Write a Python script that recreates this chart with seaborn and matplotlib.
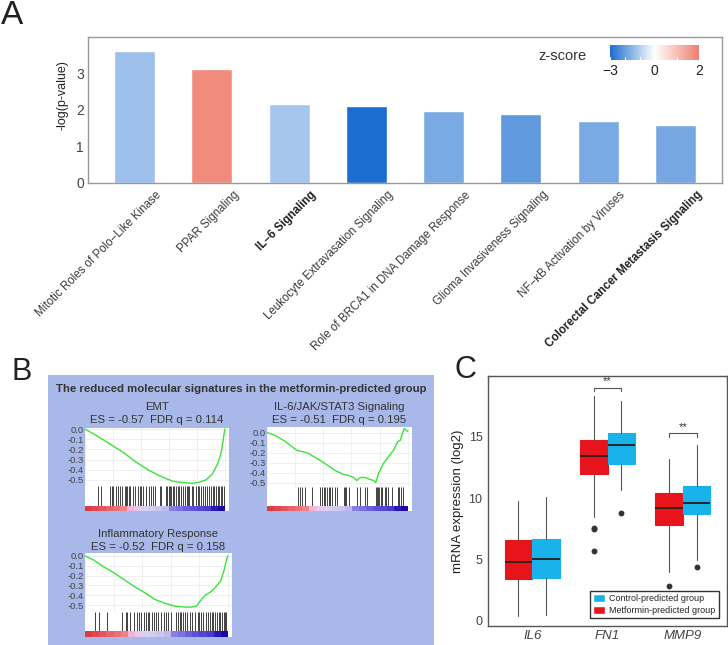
import numpy as np
import pandas as pd
import seaborn as sns
import matplotlib.pyplot as plt
from matplotlib.colors import LinearSegmentedColormap, TwoSlopeNorm, ListedColormap
from matplotlib.cm import ScalarMappable
from matplotlib.patches import Patch
from matplotlib.transforms import blended_transform_factory, ScaledTranslation

# -------------------------
# data - panel A (IPA pathways)
# -------------------------
pathways = ['Mitotic Roles of Polo\u2212Like Kinase', 'PPAR Signaling', 'IL\u22126 Signaling',
            'Leukocyte Extravasation Signaling', 'Role of BRCA1 in DNA Damage Response',
            'Glioma Invasiveness Signaling', 'NF\u2212\u03baB Activation by Viruses',
            'Colorectal Cancer Metastasis Signaling']
neglogp = [3.62, 3.11, 2.16, 2.11, 1.98, 1.88, 1.69, 1.59]
zscores = [-1.3, 1.8, -1.15, -3.0, -1.75, -2.1, -1.75, -1.8]
bold_pathways = ['IL\u22126 Signaling', 'Colorectal Cancer Metastasis Signaling']

# -------------------------
# data - panel B (GSEA running enrichment score + hits, rank in %)
# -------------------------
emt_rank = [0, 8.3, 17.8, 27.3, 36.7, 46.2, 55.7, 62.8, 69.9, 77, 81.8, 86.5, 91.2, 94.8, 97.2, 98.8, 100]
emt_es = [0, -0.065, -0.147, -0.229, -0.327, -0.41, -0.474, -0.513, -0.526, -0.533, -0.523, -0.5,
          -0.44, -0.343, -0.245, -0.114, 0]
emt_hits = [9.5, 11.1, 17.8, 19, 20.1, 22, 23.7, 24.9, 26.8, 28.4, 29.6, 30.3, 31.5, 32.5, 34.4, 35.5,
            37.9, 39.1, 40.3, 41.5, 43.8, 45.7, 46.9, 48.6, 49.8, 53.3, 54.5, 57.6, 58.5, 60, 60.9,
            61.8, 62.8, 64, 65.2, 66.4, 67.5, 68.7, 69.9, 71.8, 72.7, 73.5, 74.6, 76.5, 77.5, 79.4,
            80.6, 81.8, 82.9, 84.1, 86, 87, 88.4, 90, 91.2, 92.4, 93.6, 94.8, 96, 97.2, 98.3, 99.5]

il6_rank = [0, 5.9, 13, 21.3, 24.8, 29.6, 39, 48.5, 54.4, 57.9, 61.5, 63.8, 66.2, 69.7, 73.3, 75.7,
            77.3, 79.2, 82.7, 86.3, 89.8, 92.9, 94.6, 97.4, 100]
il6_es = [0, -0.03, -0.09, -0.18, -0.19, -0.21, -0.29, -0.38, -0.42, -0.43, -0.45, -0.48, -0.45,
          -0.45, -0.47, -0.48, -0.5, -0.41, -0.31, -0.24, -0.18, -0.09, -0.08, 0.04, 0.01]
il6_hits = [22, 23.2, 24.8, 27.2, 31.9, 37.8, 39, 40.2, 41.4, 42.6, 43.7, 44.9, 46.1, 48.5, 49.6,
            54.4, 55.1, 56, 58.4, 63.8, 66.2, 69.3, 70.9, 77.3, 78.3, 79.2, 79.9, 81.1, 82, 83.5,
            84.6, 86.3, 88.7, 92.9, 94.1, 95.3, 96.5]

infl_rank = [0, 5.9, 13, 20.1, 27.3, 34.4, 41.5, 48.6, 55.7, 62.8, 69.9, 74.6, 78.2, 80.6, 84.1,
             87.7, 91.2, 94.8, 97.2, 98.8, 100]
infl_es = [0, -0.04, -0.11, -0.17, -0.24, -0.31, -0.37, -0.44, -0.48, -0.51, -0.52, -0.52, -0.51,
           -0.46, -0.4, -0.37, -0.32, -0.26, -0.16, -0.06, 0]
infl_hits = [7.1, 9.5, 15.4, 26.1, 28.4, 29.6, 31.5, 34.4, 36.7, 37.9, 39.1, 41, 42.7, 43.8, 45,
             46.7, 48.1, 49.8, 51.4, 53.3, 55.2, 56.9, 58.5, 60.4, 64, 65.2, 66.4, 67.5, 68.7,
             69.9, 71.8, 73.5, 75.1, 77, 78.9, 79.9, 81.3, 82.9, 84.6, 86.5, 87.7, 88.9, 90, 91.2,
             92.4, 93.6, 94.8, 96, 97.2, 98.3, 99]

rank_colors = ['#DC3C44', '#E04850', '#E4545C', '#E8646C', '#EC7078', '#EE8088', '#F2B4D8',
               '#E8C8EC', '#DCD0F0', '#D4CCF0', '#CCC6EE', '#C0BAEC', '#8680E4', '#7A72E0',
               '#6A60DA', '#5E52D6', '#5446D2', '#4A3ACC', '#2A18B8', '#1A08A8']

# -------------------------
# data - panel C (boxplot statistics, log2 expression)
# -------------------------
genes = ['IL6', 'FN1', 'MMP9']
met_low = [0.38, 8.43, 4.0]
met_q1 = [3.4, 12.0, 7.8]
met_med = [4.76, 13.42, 9.21]
met_q3 = [6.58, 14.73, 10.43]
met_high = [9.78, 18.34, 13.15]
met_out = [[], [7.47, 7.55, 5.7], [2.83]]
ctl_low = [0.46, 10.65, 5.0]
ctl_q1 = [3.5, 12.77, 8.67]
ctl_med = [5.03, 14.29, 9.62]
ctl_q3 = [6.71, 15.3, 10.98]
ctl_high = [10.06, 17.9, 14.29]
ctl_out = [[], [8.75], [4.4]]
signif = ['', '**', '**']
signif_y = [0, 19.0, 15.3]

# -------------------------
# figure setup
# -------------------------
sns.set_style('white')
plt.rcParams['font.family'] = ['Liberation Sans', 'DejaVu Sans']
W, H = 728, 645
fig = plt.figure(figsize=(W / 100, H / 100), dpi=100)


def px_axes(x0, y0, x1, y1, **kw):
    return fig.add_axes([x0 / W, 1 - y1 / H, (x1 - x0) / W, (y1 - y0) / H], **kw)


def clean(ax):
    ax.set_xticks([])
    ax.set_yticks([])
    for s in ax.spines.values():
        s.set_visible(False)


# -------------------------
# A. bar chart
# -------------------------
cmap = LinearSegmentedColormap.from_list('z', ['#1C6DD0', '#FFFFFF', '#EF7F6E'])
norm = TwoSlopeNorm(vmin=-3, vcenter=0, vmax=2)
dfA = pd.DataFrame({'pathway': pathways, 'neglogp': neglogp, 'z': zscores})
pal = {p: cmap(norm(z)) for p, z in zip(pathways, zscores)}

axA = px_axes(88, 37, 722, 183)
sns.barplot(data=dfA, x='pathway', y='neglogp', hue='pathway', palette=pal, legend=False,
            width=0.53, saturation=1, ax=axA)
axA.set_xlim(-0.6, 7.6)
axA.set_ylim(0, 4.0)
axA.set_yticks([0, 1, 2, 3])
axA.set_xlabel('')
axA.set_ylabel('-log(p-value)', fontsize=9, color='#222')
axA.yaxis.set_label_coords(-0.03, 0.6)
axA.tick_params(axis='y', labelsize=10, colors='#444', length=2, pad=1)
axA.tick_params(axis='x', length=3, colors='#444', pad=2)
for s in axA.spines.values():
    s.set_color('#999')
    s.set_linewidth(1)
axA.set_xticks(range(len(pathways)))
axA.set_xticklabels([])
# rotated labels sit a bit to the right of their ticks, as in the original
lab_tr = blended_transform_factory(axA.transData, axA.transAxes) + \
    ScaledTranslation(0.21, -0.06, fig.dpi_scale_trans)
for i, p in enumerate(pathways):
    bold = p in bold_pathways
    axA.text(i, 0, p, transform=lab_tr, rotation=45, ha='right', va='top',
             rotation_mode='anchor', fontsize=8.3, clip_on=False,
             fontweight='bold' if bold else 'normal', color='#222' if bold else '#3a3a3a')

cax = px_axes(610, 45, 699, 60)
cb = fig.colorbar(ScalarMappable(norm=norm, cmap=cmap), cax=cax, orientation='horizontal',
                  ticks=[-3, 0, 2])
cb.outline.set_visible(False)
cb.ax.set_xticklabels(['\u22123', '0', '2'])
cb.ax.tick_params(labelsize=10, colors='#222', length=0, pad=3)
for t in [-3, -2, -1, 0, 1, 2]:
    cax.axvline(t, ymin=0, ymax=0.2, color='white', lw=0.8)
fig.text(562 / W, 1 - 56 / H, 'z-score', fontsize=10.5, color='#333', ha='center', va='center')

# -------------------------
# B. GSEA panels
# -------------------------
bg = px_axes(48, 375, 434, 645, zorder=-5)
bg.set_facecolor('#A8B8E8')
clean(bg)
fig.text(241 / W, 1 - 389 / H,
         'The reduced molecular signatures in the metformin-predicted group',
         fontsize=8.2, fontweight='bold', color='#333', ha='center', va='center')

rank_cmap = ListedColormap(rank_colors)


def gsea(x0, x1, ytop, ycurve, yhits, ycbar, rank, es, hits, ylim, name, stats, ytitle):
    xc = (x0 + x1) / 2
    fig.text(xc / W, 1 - ytitle / H, name, fontsize=8.2, color='#333', ha='center', va='center')
    fig.text(xc / W, 1 - (ytitle + 13) / H, stats, fontsize=8.2, color='#333',
             ha='center', va='center')
    ax = px_axes(x0, ytop, x1, ycurve)
    ax.set_facecolor('white')
    sns.lineplot(x=rank, y=es, ax=ax, color='#3BE33B', lw=1)
    ax.set_xlim(0, 103)
    ax.set_ylim(*ylim)
    ax.set_xticks([0, 20, 40, 60, 80, 100])
    ax.set_xticklabels([])
    ax.set_yticks([0, -0.1, -0.2, -0.3, -0.4, -0.5])
    ax.set_yticklabels(['0.0', '-0.1', '-0.2', '-0.3', '-0.4', '-0.5'])
    ax.tick_params(length=0, labelsize=6.8, colors='#444', pad=1)
    ax.grid(True, color='#eeeeee', lw=0.6)
    ax.set_xlabel('')
    ax.set_ylabel('')
    for s in ax.spines.values():
        s.set_visible(False)
    ax.axhline(0, color='#dddddd', lw=0.6, zorder=0)

    axh = px_axes(x0, ycurve, x1, yhits)
    axh.set_facecolor('white')
    axh.vlines(hits, 0, 1, color='#222', lw=0.6)
    axh.set_xlim(0, 103)
    axh.set_ylim(0, 1)
    clean(axh)

    axb = px_axes(x0, yhits, x1, ycbar)
    axb.set_facecolor('white')
    axb.imshow([list(range(len(rank_colors)))], cmap=rank_cmap, aspect='auto',
               extent=[0, 100, 0, 1])
    axb.set_xlim(0, 103)
    axb.set_ylim(0, 1)
    clean(axb)


gsea(85, 229, 428, 486, 506, 511, emt_rank, emt_es, emt_hits, (-0.56, 0.01),
     'EMT', 'ES = -0.57  FDR q = 0.114', 407)
gsea(267, 412, 427, 487, 505.5, 511, il6_rank, il6_es, il6_hits, (-0.545, 0.055),
     'IL-6/JAK/STAT3 Signaling', 'ES = -0.51  FDR q = 0.195', 407)
gsea(85, 232, 553, 612, 631, 637, infl_rank, infl_es, infl_hits, (-0.57, 0.03),
     'Inflammatory Response', 'ES = -0.52  FDR q = 0.158', 534)

# -------------------------
# C. boxplots
# -------------------------
red, blue = '#E8141C', '#19B3EC'
axC = px_axes(488, 376, 727, 626)


def make_stats(low, q1, med, q3, high, out):
    return [dict(whislo=a, q1=b, med=c, q3=d, whishi=e, fliers=f)
            for a, b, c, d, e, f in zip(low, q1, med, q3, high, out)]


met_stats = make_stats(met_low, met_q1, met_med, met_q3, met_high, met_out)
ctl_stats = make_stats(ctl_low, ctl_q1, ctl_med, ctl_q3, ctl_high, ctl_out)
off = 0.185
for stats, col, sign in [(met_stats, red, -1), (ctl_stats, blue, 1)]:
    axC.bxp(stats, positions=[i + sign * off for i in range(len(genes))], widths=0.37,
            patch_artist=True, showcaps=False,
            boxprops=dict(facecolor=col, edgecolor=col, lw=0.8),
            medianprops=dict(color='#2a1a1a', lw=1.3),
            whiskerprops=dict(color='#555', lw=0.8),
            flierprops=dict(marker='o', markerfacecolor='#333', markeredgecolor='#333',
                            markersize=3.2))
for i, s in enumerate(signif):
    if s:
        y = signif_y[i]
        axC.plot([i - off, i - off, i + off, i + off], [y - 0.3, y, y, y - 0.3],
                 color='#555', lw=0.8)
        axC.text(i, y + 0.1, s, ha='center', va='bottom', fontsize=8, color='#333')

axC.set_xlim(-0.59, 2.59)
axC.set_ylim(-0.41, 19.94)
axC.set_xticks(range(len(genes)))
axC.set_xticklabels(genes, fontsize=9.5, style='italic', color='#333')
axC.set_yticks([0, 5, 10, 15])
axC.tick_params(axis='y', labelsize=9, colors='#444', length=2, pad=2)
axC.tick_params(axis='x', length=2, colors='#444', pad=1)
axC.set_ylabel('mRNA expression (log2)', fontsize=9.5, color='#222', labelpad=3)
for s in axC.spines.values():
    s.set_color('#555')
    s.set_linewidth(1)
handles = [Patch(facecolor=blue, label='Control-predicted group'),
           Patch(facecolor=red, label='Metformin-predicted group')]
leg = axC.legend(handles=handles, loc='lower right', fontsize=6.5, frameon=True, fancybox=False,
                 borderaxespad=0.9, handlelength=1.3, handleheight=1.0, labelspacing=0.3,
                 borderpad=0.35, handletextpad=0.5)
leg.get_frame().set_edgecolor('black')
leg.get_frame().set_linewidth(1.0)

# -------------------------
# panel letters
# -------------------------
fig.text(12 / W, 1 - 15 / H, 'A', fontsize=24, color='#222', ha='center', va='center')
fig.text(22 / W, 1 - 372 / H, 'B', fontsize=22, color='#222', ha='center', va='center')
fig.text(465 / W, 1 - 370 / H, 'C', fontsize=22, color='#222', ha='center', va='center')

fig.savefig('out.png', dpi=100)
